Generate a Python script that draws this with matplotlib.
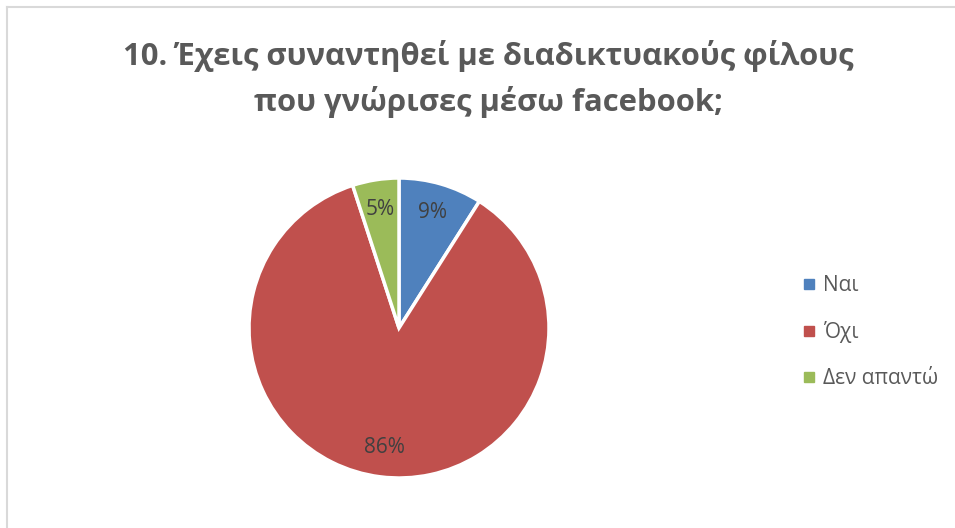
import matplotlib.pyplot as plt
from matplotlib.lines import Line2D

# data
title = "10. Έχεις συναντηθεί με διαδικτυακούς φίλους\nπου γνώρισες μέσω facebook;"
labels = ["Ναι", "Όχι", "Δεν απαντώ"]
values = [9, 86, 5]
colors = ["#4f81bd", "#c0504d", "#9bbb59"]

plt.rcParams['font.family'] = ['Open Sans', 'DejaVu Sans']
text_grey = "#595959"

W, H = 955, 528
fig = plt.figure(figsize=(W / 100, H / 100), dpi=100)

# chart-area frame (only top and left edges visible in the crop)
fig.add_artist(Line2D([7 / W, 1], [1 - 7 / H, 1 - 7 / H], color="#d9d9d9", lw=1.5))
fig.add_artist(Line2D([7 / W, 7 / W], [0, 1 - 7 / H], color="#d9d9d9", lw=1.5))

fig.text(488 / W, 1 - 79 / H, title, ha="center", va="center",
         fontsize=22.3, fontweight="bold", color=text_grey, linespacing=1.55)

# pie: centre (399, 328), radius 150 px
ax = fig.add_axes([249 / W, 1 - 478 / H, 300 / W, 300 / H])
wedges, texts, autotexts = ax.pie(
    values, colors=colors, startangle=90, counterclock=False,
    autopct="%d%%", pctdistance=0.8,
    wedgeprops=dict(edgecolor="white", linewidth=2.5),
    textprops=dict(fontsize=15, color="#404040"))
ax.set_xlim(-1, 1)
ax.set_ylim(-1, 1)
ax.set_aspect("equal")

handles = [Line2D([], [], marker="s", linestyle="", markersize=7,
                  markerfacecolor=c, markeredgecolor=c) for c in colors]
fig.legend(handles, labels, loc="upper left", bbox_to_anchor=(794 / W, 1 - 267 / H),
           frameon=False, fontsize=15, labelcolor=text_grey, handlelength=0.6,
           handletextpad=0.4, labelspacing=1.2, borderaxespad=0)

fig.savefig("out.png", dpi=100)
